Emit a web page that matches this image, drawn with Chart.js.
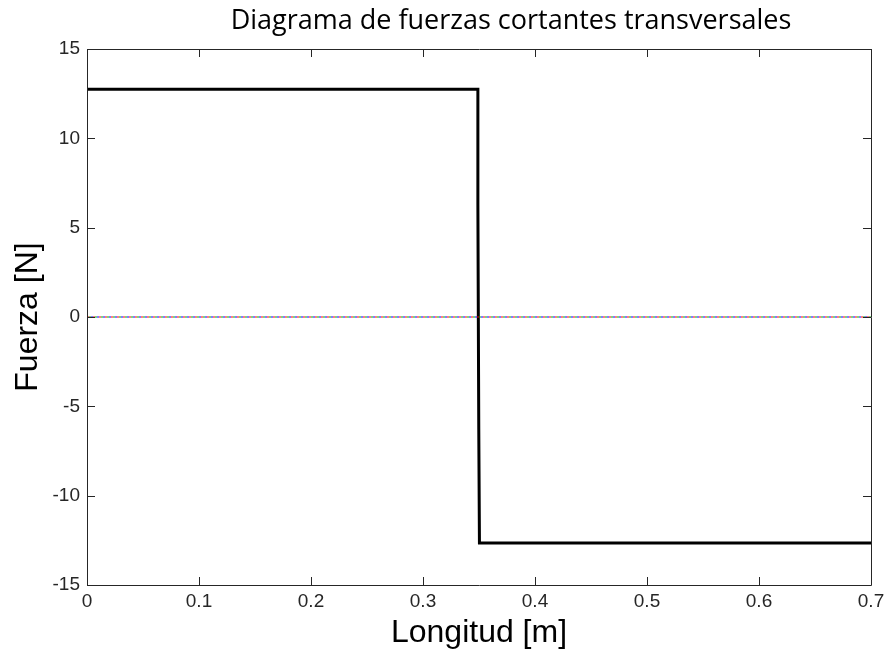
<!DOCTYPE html>
<html>
<head>
<meta charset="utf-8">
<script src="https://cdn.jsdelivr.net/npm/chart.js@4"></script>
<style>
  html, body { margin: 0; padding: 0; background: #fff; }
  #wrap { width: 884px; height: 654px; }
</style>
</head>
<body>
<div id="wrap"><canvas id="shear"></canvas></div>
<script>
// DATA
const shearX = [0, 0.349, 0.349, 0.3498, 0.3504, 0.7];
const shearY = [12.75, 12.75, 6.3, -6.3, -12.65, -12.65];
const zeroX = [0, 0.7];
const zeroY = [0, 0];
const xTicks = [0, 0.1, 0.2, 0.3, 0.4, 0.5, 0.6, 0.7];
const yTicks = [-15, -10, -5, 0, 5, 10, 15];

const axisColor = "#262626";

// frame + inward ticks like matlab, and the title
const matlabBox = {
  id: "matlabBox",
  afterDraw(chart) {
    const ctx = chart.ctx;
    const a = chart.chartArea;
    const xs = chart.scales.x, ys = chart.scales.y;
    ctx.save();
    ctx.strokeStyle = axisColor;
    ctx.lineWidth = 1;
    ctx.beginPath();
    ctx.rect(Math.round(a.left) + 0.5, Math.round(a.top) + 0.5,
             Math.round(a.right - a.left), Math.round(a.bottom - a.top));
    ctx.stroke();
    ctx.beginPath();
    xTicks.forEach(v => {
      const px = Math.round(xs.getPixelForValue(v)) + 0.5;
      ctx.moveTo(px, a.bottom); ctx.lineTo(px, a.bottom - 8);
      ctx.moveTo(px, a.top); ctx.lineTo(px, a.top + 8);
    });
    yTicks.forEach(v => {
      const py = Math.round(ys.getPixelForValue(v)) + 0.5;
      ctx.moveTo(a.left, py); ctx.lineTo(a.left + 8, py);
      ctx.moveTo(a.right, py); ctx.lineTo(a.right - 8, py);
    });
    ctx.stroke();

    ctx.fillStyle = "#000";
    ctx.font = "27px 'Open Sans'";
    ctx.textAlign = "center";
    ctx.textBaseline = "middle";
    ctx.fillText("Diagrama de fuerzas cortantes transversales", 511, 21);
    ctx.restore();
  }
};

const zeroDash = (color, offset) => ({
  data: zeroX.map((x, i) => ({x: x, y: zeroY[i]})),
  showLine: true,
  borderColor: color,
  borderWidth: 1.2,
  borderDash: [2, 4],
  borderDashOffset: offset,
  pointRadius: 0
});

new Chart(document.getElementById("shear"), {
  type: "scatter",
  data: {
    datasets: [
      zeroDash("#ff0000", 0),
      zeroDash("#0000ff", 2),
      zeroDash("#00b000", 4),
      {
        data: shearX.map((x, i) => ({x: x, y: shearY[i]})),
        showLine: true,
        borderColor: "#000",
        borderWidth: 3,
        pointRadius: 0,
        tension: 0
      }
    ]
  },
  options: {
    responsive: true,
    maintainAspectRatio: false,
    animation: false,
    layout: { padding: { left: 0, right: 13, top: 49, bottom: 0 } },
    plugins: {
      legend: { display: false },
      tooltip: { enabled: false }
    },
    scales: {
      x: {
        type: "linear",
        min: 0,
        max: 0.7,
        afterBuildTicks: s => { s.ticks = xTicks.map(v => ({value: v})); },
        afterFit: s => { s.height = 69; s.paddingLeft = 0; s.paddingRight = 0; },
        grid: { display: false, drawTicks: false },
        border: { display: false },
        ticks: {
          color: axisColor,
          font: { family: "'Liberation Sans'", size: 19 },
          padding: 5,
          maxRotation: 0,
          callback: v => String(v)
        },
        title: {
          display: true,
          text: "Longitud [m]",
          color: "#000",
          font: { family: "'Liberation Sans'", size: 32 },
          padding: { top: 0, bottom: 2 }
        }
      },
      y: {
        min: -15,
        max: 15,
        afterBuildTicks: s => { s.ticks = yTicks.map(v => ({value: v})); },
        afterFit: s => { s.width = 87; },
        grid: { display: false, drawTicks: false },
        border: { display: false },
        ticks: {
          color: axisColor,
          font: { family: "'Liberation Sans'", size: 19 },
          padding: 7
        },
        title: {
          display: true,
          text: "Fuerza [N]",
          color: "#000",
          font: { family: "'Liberation Sans'", size: 32 },
          padding: { top: 9, bottom: 0 }
        }
      }
    }
  },
  plugins: [matlabBox]
});
</script>
</body>
</html>
